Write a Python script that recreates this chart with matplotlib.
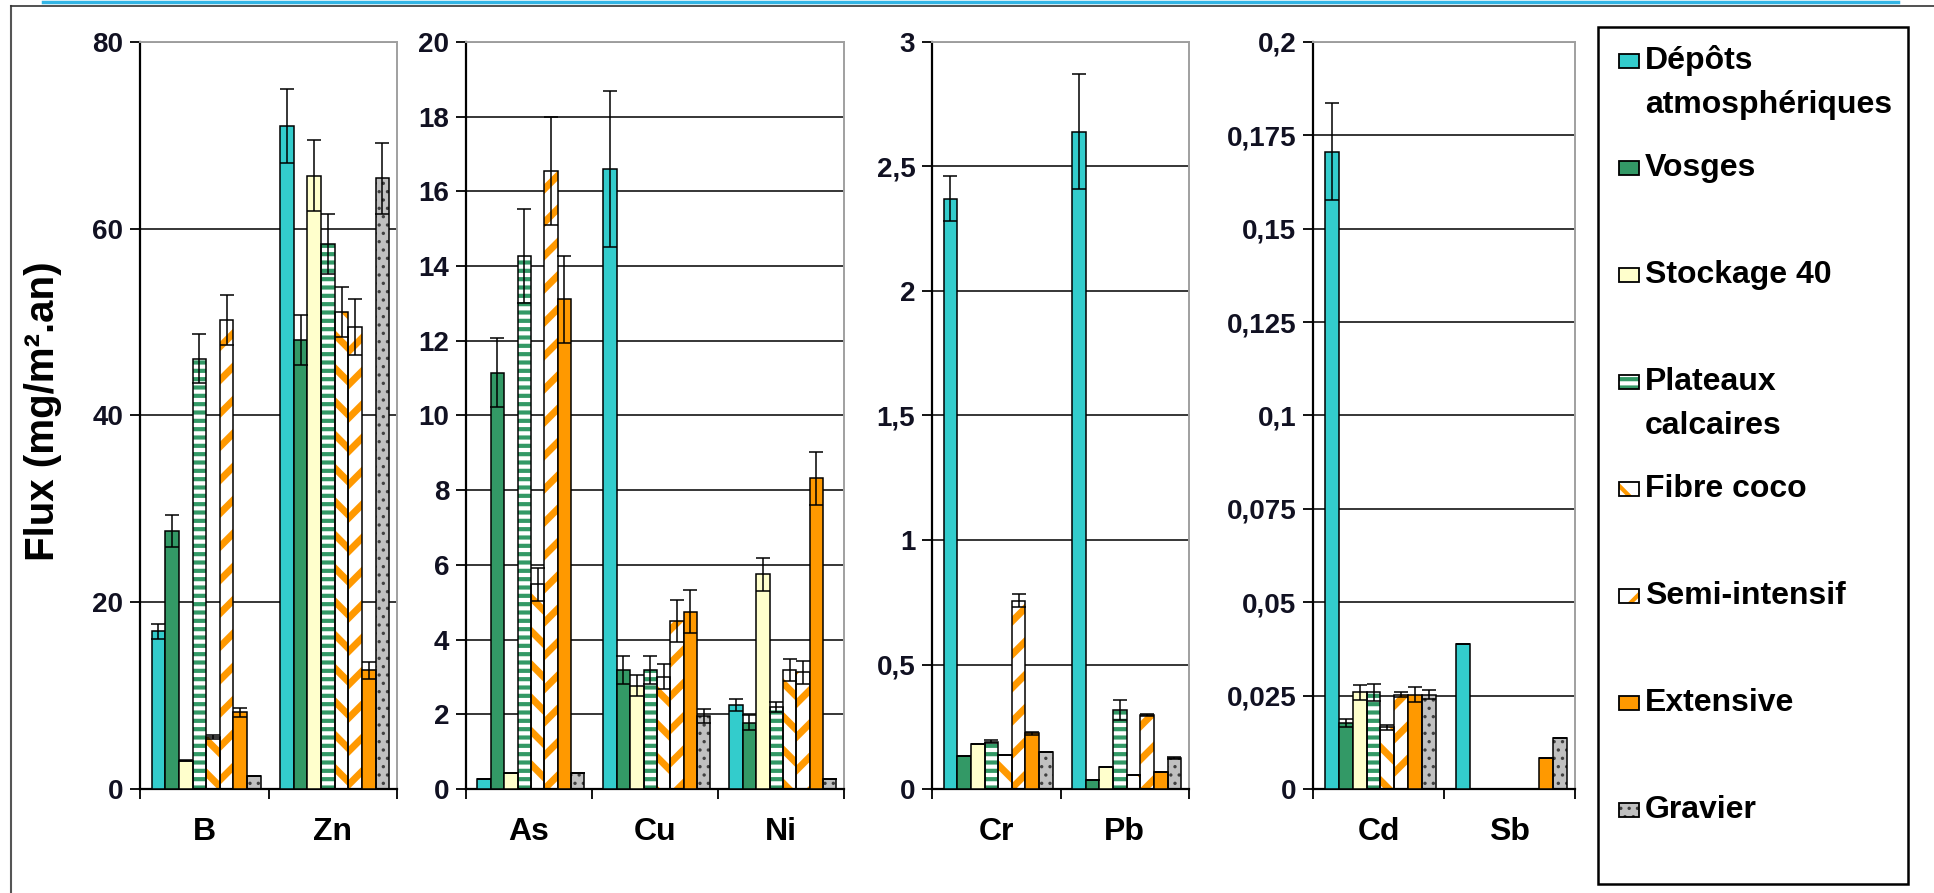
import matplotlib.pyplot as plt
from matplotlib.patches import Rectangle
from matplotlib.lines import Line2D
import numpy as np

plt.rcParams['font.family'] = ['Liberation Sans', 'DejaVu Sans']
plt.rcParams['font.weight'] = 'bold'
plt.rcParams['hatch.linewidth'] = 3.0

nan = np.nan

# data (mg/m2.an)
elements = ['B', 'Zn', 'As', 'Cu', 'Ni', 'Cr', 'Pb', 'Cd', 'Sb']

depots = [16.9, 71.0, 0.27, 16.6, 2.24, 2.37, 2.64, 0.1706, 0.0388]
depots_err = [0.8, 4.0, 0.0, 2.1, 0.16, 0.09, 0.23, 0.013, 0.0]
vosges = [27.6, 48.1, 11.15, 3.19, 1.78, 0.132, 0.036, 0.0177, nan]
vosges_err = [1.7, 2.7, 0.93, 0.38, 0.2, 0.0, 0.0, 0.001, nan]
stockage = [3.05, 65.7, 0.43, 2.77, 5.75, 0.18, 0.09, 0.0259, nan]
stockage_err = [0.1, 3.8, 0.0, 0.27, 0.44, 0.0, 0.0, 0.002, nan]
plateaux = [46.1, 58.4, 14.27, 3.19, 2.2, 0.189, 0.318, 0.0259, nan]
plateaux_err = [2.6, 3.2, 1.25, 0.38, 0.13, 0.006, 0.04, 0.0023, nan]
fibre = [5.6, 51.1, 5.48, 3.01, 3.19, 0.136, 0.057, 0.0165, nan]
fibre_err = [0.2, 2.7, 0.45, 0.33, 0.3, 0.0, 0.0, 0.0007, nan]
semi = [50.2, 49.5, 16.55, 4.49, 3.12, 0.757, 0.298, 0.0253, nan]
semi_err = [2.7, 3.0, 1.45, 0.56, 0.3, 0.025, 0.005, 0.0006, nan]
extensive = [8.2, 12.7, 13.11, 4.75, 8.32, 0.223, 0.068, 0.0253, 0.0084]
extensive_err = [0.5, 0.9, 1.16, 0.58, 0.71, 0.005, 0.0, 0.002, 0.0]
gravier = [1.4, 65.4, 0.43, 1.95, 0.26, 0.148, 0.125, 0.0253, 0.0137]
gravier_err = [0.0, 3.8, 0.0, 0.18, 0.0, 0.0, 0.005, 0.0013, 0.0]

series_names = ['Dépôts\natmosphériques', 'Vosges', 'Stockage 40', 'Plateaux\ncalcaires',
                'Fibre coco', 'Semi-intensif', 'Extensive', 'Gravier']
series_vals = [depots, vosges, stockage, plateaux, fibre, semi, extensive, gravier]
series_errs = [depots_err, vosges_err, stockage_err, plateaux_err, fibre_err, semi_err,
               extensive_err, gravier_err]

face = ['#33CCCC', '#339966', '#FFFFCC', 'white', 'white', 'white', '#FF9900', '#C0C0C0']
hatches = [None, None, None, '--', '\\', '/', None, '..']
hatch_col = [None, None, None, '#339966', '#FF9900', '#FF9900', None, '#404040']
hatch_lw = [0, 0, 0, 3.0, 5.0, 5.0, 0, 1.2]

panel_cats = [['B', 'Zn'], ['As', 'Cu', 'Ni'], ['Cr', 'Pb'], ['Cd', 'Sb']]
panel_ymax = [80, 20, 3, 0.2]
panel_ticks = [[0, 20, 40, 60, 80],
               [0, 2, 4, 6, 8, 10, 12, 14, 16, 18, 20],
               [0, 0.5, 1, 1.5, 2, 2.5, 3],
               [0, 0.025, 0.05, 0.075, 0.1, 0.125, 0.15, 0.175, 0.2]]
panel_ticklabels = [['0', '20', '40', '60', '80'],
                    ['0', '2', '4', '6', '8', '10', '12', '14', '16', '18', '20'],
                    ['0', '0,5', '1', '1,5', '2', '2,5', '3'],
                    ['0', '0,025', '0,05', '0,075', '0,1', '0,125', '0,15', '0,175', '0,2']]

W, H = 1934, 893
fig = plt.figure(figsize=(W / 100, H / 100), dpi=100)

def fx(px):
    return px / W

def fy(py):
    return 1 - py / H

# pixel extents of the four panels
panel_px = [(140, 397), (466, 844), (932, 1189), (1313, 1575)]
top_px, bot_px = 42, 789

bw = 0.85 / 8
shift = 0.015

axes = []
for p, cats in enumerate(panel_cats):
    x0, x1 = panel_px[p]
    ax = fig.add_axes([fx(x0), fy(bot_px), fx(x1 - x0), (bot_px - top_px) / H])
    axes.append(ax)
    n = len(cats)
    idx = [elements.index(c) for c in cats]
    base = np.arange(n) + 0.5 + shift
    for i in range(8):
        x = base + (i - 3.5) * bw
        v = np.array([series_vals[i][k] for k in idx], dtype=float)
        e = np.array([series_errs[i][k] for k in idx], dtype=float)
        ok = ~np.isnan(v)
        if hatches[i] is None:
            ax.bar(x[ok], v[ok], bw, color=face[i], edgecolor='black', linewidth=1.1, zorder=3)
        else:
            with plt.rc_context({'hatch.linewidth': hatch_lw[i]}):
                ax.bar(x[ok], v[ok], bw, color=face[i], edgecolor=hatch_col[i],
                       hatch=hatches[i], linewidth=0, zorder=2)
            ax.bar(x[ok], v[ok], bw, facecolor='none', edgecolor='black', linewidth=1.1, zorder=3)
        ax.errorbar(x[ok], v[ok], yerr=e[ok], fmt='none', ecolor='black', elinewidth=1.1,
                    capsize=5, capthick=1.1, zorder=4)

    ax.set_xlim(0, n)
    ax.set_ylim(0, panel_ymax[p])
    ax.set_yticks(panel_ticks[p])
    ax.set_yticklabels(panel_ticklabels[p])
    ax.yaxis.grid(True, color='black', linewidth=1.1)
    ax.set_axisbelow(True)
    ax.set_xticks(np.arange(n + 1))
    ax.set_xticklabels([])
    ax.set_xticks(np.arange(n) + 0.5, minor=True)
    ax.set_xticklabels(cats, minor=True, fontsize=23, fontweight='bold')
    ax.tick_params(axis='x', which='major', direction='out', length=7, width=1.3, color='black')
    ax.tick_params(axis='x', which='minor', length=0, pad=20)
    ax.tick_params(axis='y', direction='out', length=7, width=1.3, labelsize=20, pad=5)
    for lab in ax.get_yticklabels():
        lab.set_fontweight('bold')
        lab.set_color('#111122')
    ax.spines['left'].set_linewidth(1.6)
    ax.spines['bottom'].set_linewidth(1.6)
    ax.spines['top'].set_color('#A0A0A0')
    ax.spines['right'].set_color('#A0A0A0')
    ax.spines['top'].set_linewidth(1.4)
    ax.spines['right'].set_linewidth(1.4)

axes[0].set_ylabel('Flux (mg/m².an)', fontsize=29, fontweight='bold')
axes[0].yaxis.set_label_coords((62 - 140) / 257, (bot_px - 411) / (bot_px - top_px))

# legend box drawn by hand, Excel style
fig.add_artist(Rectangle((fx(1598), fy(884)), fx(1908 - 1598), (884 - 27) / H,
                         transform=fig.transFigure, facecolor='white', edgecolor='black',
                         linewidth=1.8, zorder=5))
for i, name in enumerate(series_names):
    yc = 61 + 107 * i
    mx, my, mw, mh = 1619, yc + 7, 20, 14
    if hatches[i] is None:
        fig.add_artist(Rectangle((fx(mx), fy(my)), fx(mw), mh / H, transform=fig.transFigure,
                                 facecolor=face[i], edgecolor='black', linewidth=1.3, zorder=6))
    else:
        with plt.rc_context({'hatch.linewidth': min(hatch_lw[i], 3.0)}):
            fig.add_artist(Rectangle((fx(mx), fy(my)), fx(mw), mh / H, transform=fig.transFigure,
                                     facecolor=face[i], edgecolor=hatch_col[i], hatch=hatches[i],
                                     linewidth=0, zorder=6))
        fig.add_artist(Rectangle((fx(mx), fy(my)), fx(mw), mh / H, transform=fig.transFigure,
                                 facecolor='none', edgecolor='black', linewidth=1.3, zorder=7))
    for j, line in enumerate(name.split('\n')):
        fig.text(fx(1645), fy(yc + 44 * j), line, fontsize=23, fontweight='bold',
                 va='center', ha='left', zorder=8)

# outer frame
fig.add_artist(Line2D([fx(11), fx(11)], [fy(6), 0], transform=fig.transFigure,
                      color='#555555', linewidth=1.5))
fig.add_artist(Line2D([fx(11), 1], [fy(6), fy(6)], transform=fig.transFigure,
                      color='#333333', linewidth=1.2))
fig.add_artist(Line2D([fx(43), fx(1898)], [fy(1.5), fy(1.5)], transform=fig.transFigure,
                      color='#33B5E5', linewidth=2.5))

fig.savefig('out.png', dpi=100)
